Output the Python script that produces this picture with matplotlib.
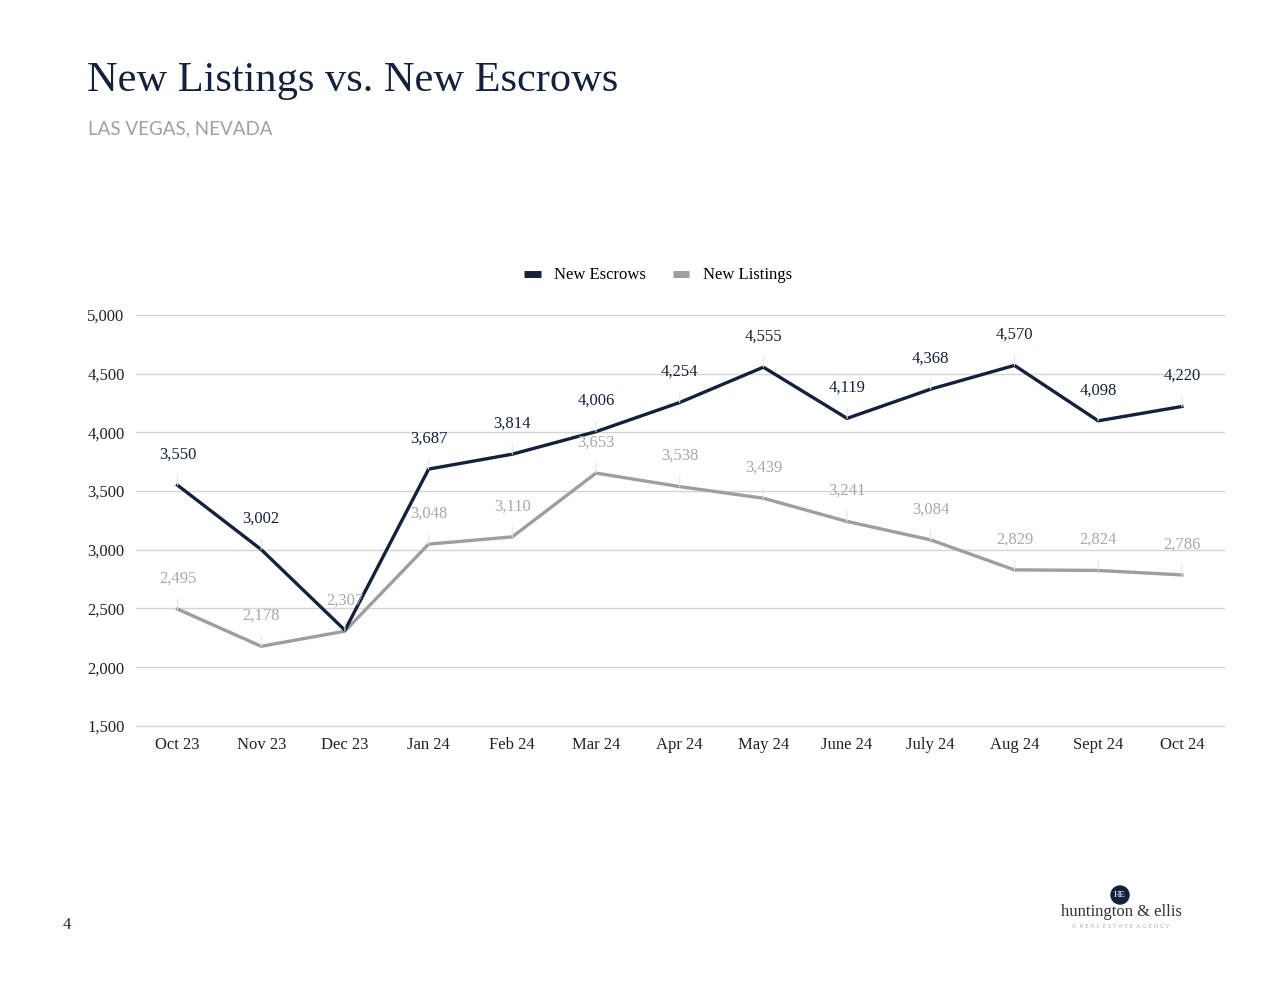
import numpy as np
import matplotlib.pyplot as plt
from matplotlib.patches import Ellipse

# chart data
months = ['Oct 23', 'Nov 23', 'Dec 23', 'Jan 24', 'Feb 24', 'Mar 24', 'Apr 24',
          'May 24', 'June 24', 'July 24', 'Aug 24', 'Sept 24', 'Oct 24']
new_escrows = [3550, 3002, 2315, 3687, 3814, 4006, 4254, 4555, 4119, 4368, 4570, 4098, 4220]
new_listings = [2495, 2178, 2307, 3048, 3110, 3653, 3538, 3439, 3241, 3084, 2829, 2824, 2786]
y_ticks = [1500, 2000, 2500, 3000, 3500, 4000, 4500, 5000]

navy = '#14213d'
grey_line = '#9e9ea2'
grey_text = '#a8a8a8'
serif = ['Liberation Serif', 'DejaVu Serif']

fig = plt.figure(figsize=(12.8, 9.89), dpi=100)
ax = fig.add_axes([0.106, 0.266, 0.85, 0.4156])

x = np.arange(len(months))
ax.plot(x, new_escrows, color=navy, lw=2.4, label='New Escrows', zorder=3)
ax.plot(x, new_listings, color=grey_line, lw=2.4, label='New Listings', zorder=2)

# data labels with thin leader lines
def add_labels(vals, color, skip=()):
    for i, v in enumerate(vals):
        if i in skip:
            continue
        ax.annotate(f'{v:,}', xy=(i, v), xytext=(0, 22), textcoords='offset points',
                    ha='center', va='center', fontsize=12, color=color, family=serif,
                    arrowprops=dict(arrowstyle='-', color='#e6e6e6', lw=0.8,
                                    shrinkA=7, shrinkB=0), zorder=4)

add_labels(new_listings, grey_text)
add_labels(new_escrows, navy, skip=(2,))

ax.set_xlim(-0.5, len(months) - 0.5)
ax.set_ylim(1500, 5000)
ax.set_yticks(y_ticks)
ax.set_yticklabels([f'{t:,}' for t in y_ticks], family=serif, fontsize=12, color='#222222')
ax.set_xticks(x)
ax.set_xticklabels(months, family=serif, fontsize=12, color='#222222')
ax.tick_params(length=0, pad=8)
ax.grid(axis='y', color='#d4d4d4', lw=1)
for gl in ax.get_ygridlines():
    gl.set_clip_on(False)
ax.set_axisbelow(True)
for s in ax.spines.values():
    s.set_visible(False)

leg = ax.legend(loc='lower center', bbox_to_anchor=(0.48, 1.04), ncol=2, frameon=False,
                prop={'family': serif, 'size': 12}, handlelength=1.0, handleheight=0.5,
                columnspacing=1.6, handletextpad=0.8)
for h in leg.get_lines():
    h.set_linewidth(5)
    h.set_solid_capstyle('butt')

# page header
fig.text(0.068, 0.918, 'New Listings vs. New Escrows', family=serif, fontsize=30.5,
         color=navy, va='center')
fig.text(0.069, 0.870, 'LAS VEGAS, NEVADA', family=['Lato', 'DejaVu Sans'], fontsize=13.5,
         color='#a0a0a0', va='center')

# page number
fig.text(0.049, 0.065, '4', family=serif, fontsize=12, color=navy, va='center')

# logo
cx, cy = 1120 / 1280, 1 - 895 / 989
fig.add_artist(Ellipse((cx, cy), 18 / 1280, 18 / 989, transform=fig.transFigure,
                       color=navy, zorder=5))
fig.text(cx, cy, 'HE', family=serif, fontsize=6.5, color='white',
         ha='center', va='center', zorder=6)
fig.text(1121 / 1280, 1 - 912 / 989, 'huntington & ellis', family=serif, fontsize=12,
         color='#333333', ha='center', va='center')
fig.text(1121 / 1280, 1 - 927 / 989, 'A  R E A L  E S T A T E  A G E N C Y',
         family=['Lato', 'DejaVu Sans'], fontsize=4.5, color='#b0b0b0', ha='center', va='center')

fig.savefig('out.png', dpi=100, facecolor='white')
